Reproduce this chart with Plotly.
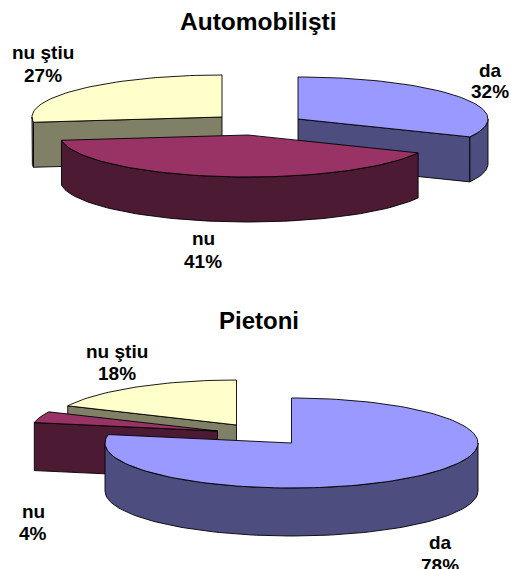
import math
import plotly.graph_objects as go

# Data
categories = ["da", "nu", "nu ştiu"]
auto_values = [32, 41, 27]
pietoni_values = [78, 4, 18]
titles = ["Automobilişti", "Pietoni"]

# Styles
TOP = {"da": "#9999FF", "nu": "#993366", "nu ştiu": "#FFFFCC"}
SIDE = {"da": "#4D4D80", "nu": "#4C1A33", "nu ştiu": "#808066"}
FONT = "Liberation Sans"

fig = go.Figure()


def add_poly(pts, color):
    fig.add_trace(go.Scatter(
        x=[p[0] for p in pts], y=[p[1] for p in pts], mode="lines",
        fill="toself", fillcolor=color,
        line=dict(color="#000000", width=0.9), hoverinfo="skip", showlegend=False,
    ))


def arc(cx, cy, rx, ry, a0, a1, dy=0.0):
    n = max(2, int(abs(a1 - a0) / 2) + 1)
    out = []
    for i in range(n + 1):
        t = math.radians(a0 + (a1 - a0) * i / n)
        out.append((cx + rx * math.sin(t), cy - ry * math.cos(t) + dy))
    return out


def draw_pie(values, centers, ry, depth, order):
    spans = {}
    start = 0.0
    for cat, v in zip(categories, values):
        spans[cat] = (start, start + v * 3.6)
        start += v * 3.6
    for cat in order:
        a0, a1 = spans[cat]
        cx, cy, rx = centers[cat]
        # cut faces that look toward the viewer
        for a in (a0, a1):
            s, c = math.sin(math.radians(a)), math.cos(math.radians(a))
            visible = (a == a1 and s > 0 and a1 < 180) or (a == a0 and s < 0 and a0 > 180)
            if visible:
                e = (cx + rx * s, cy - ry * c)
                add_poly([(cx, cy), e, (e[0], e[1] + depth), (cx, cy + depth), (cx, cy)], SIDE[cat])
        # outer rim (front half only)
        lo, hi = max(a0, 90), min(a1, 270)
        if hi > lo:
            upper = arc(cx, cy, rx, ry, lo, hi)
            lower = arc(cx, cy, rx, ry, hi, lo, depth)
            add_poly(upper + lower + [upper[0]], SIDE[cat])
        # top surface
        add_poly([(cx, cy)] + arc(cx, cy, rx, ry, a0, a1) + [(cx, cy)], TOP[cat])


draw_pie(auto_values,
         {"da": (298, 119, 190), "nu": (248, 135, 188), "nu ştiu": (222, 117, 190)},
         42, 45, ["nu ştiu", "da", "nu"])
draw_pie(pietoni_values,
         {"da": (291.5, 443, 186.5), "nu": (217.5, 431, 186.5), "nu ştiu": (236.5, 425, 186.5)},
         45, 48, ["nu ştiu", "nu", "da"])

annotations = []


def text(x, y, s, size):
    annotations.append(dict(x=x, y=y, text=f"<b>{s}</b>", showarrow=False, xref="x", yref="y",
                            xanchor="center", yanchor="middle",
                            font=dict(family=FONT, size=size, color="#000000")))


text(258.5, 21, titles[0], 24.5)
text(259, 320, titles[1], 24)

label_pos_auto = {"da": (490, 70, 91), "nu": (203, 238, 261), "nu ştiu": (43, 52, 75)}
label_pos_piet = {"da": (440, 542, 565), "nu": (33, 511, 533), "nu ştiu": (117, 351, 373)}
for vals, pos in ((auto_values, label_pos_auto), (pietoni_values, label_pos_piet)):
    for cat, v in zip(categories, vals):
        x, y1, y2 = pos[cat]
        text(x, y1, cat, 19)
        text(x, y2, f"{v}%", 19)

fig.update_layout(
    width=511, height=569, margin=dict(l=0, r=0, t=0, b=0),
    paper_bgcolor="#FFFFFF", plot_bgcolor="#FFFFFF",
    xaxis=dict(range=[0, 511], visible=False, fixedrange=True),
    yaxis=dict(range=[569, 0], visible=False, fixedrange=True),
    annotations=annotations,
)

fig.write_html("out.html", config={"displayModeBar": False},
               post_script="document.body.style.margin='0';document.body.style.overflow='hidden';")
